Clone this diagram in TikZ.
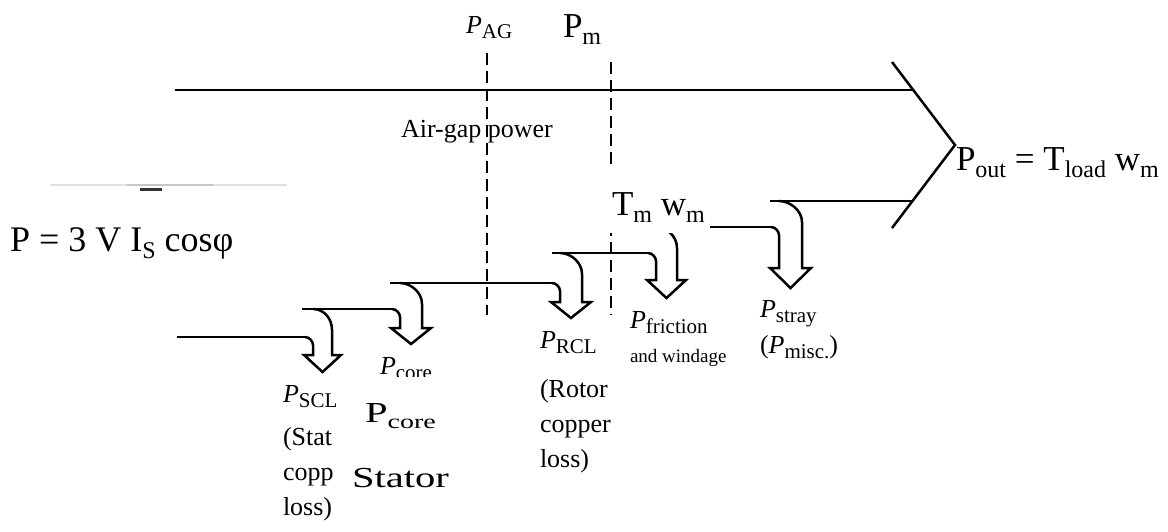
\documentclass[tikz,border=0pt]{standalone}
\usepackage{fontspec}
\setmainfont{Liberation Serif}
\usepackage{graphicx}
\newcommand\tbsub[1]{\raisebox{-5pt}{\fontsize{21}{21}\selectfont #1}}
\newcommand\ovsub[1]{\raisebox{-7pt}{\fontsize{24}{24}\selectfont #1}}
\newcommand\ovsubs[1]{\raisebox{-6pt}{\fontsize{20}{20}\selectfont #1}}
% loss arrow: #1 xl, #2 xr, #3 yU, #4 yL, #5 yf, #6 xtip, #7 ytip
\newcommand\lossarrow[7]{%
  \draw[flow] (#1-8,#4) .. controls (#1-3.6,#4) and (#1,#4+4.4) .. (#1,#4+8)
    -- (#1,#5) -- (#1-9,#5) -- (#6,#7) -- (#2+9,#5) -- (#2,#5)
    -- (#2,#3+21) .. controls (#2,#3+9.5) and (#1+11,#3) .. (#1,#3);}
\begin{document}
\begin{tikzpicture}[x=1pt,y=-1pt,
  flow/.style={line width=2.5pt, line join=miter},
  gap/.style={line width=1.8pt, dash pattern=on 12pt off 6pt},
  tb/.style={inner sep=0pt, outer sep=0pt, anchor=base west, font=\fontsize{26}{30}\selectfont},
  tbs/.style={inner sep=0pt, outer sep=0pt, anchor=base west, font=\fontsize{19}{22}\selectfont},
  ov/.style={inner sep=0pt, outer sep=0pt, anchor=base west, font=\fontsize{35}{40}\selectfont},
  ovs/.style={inner sep=0pt, outer sep=0pt, anchor=base west, font=\fontsize{29}{34}\selectfont}]
\useasboundingbox (0,0) rectangle (1168,531);
\fill[white] (0,0) rectangle (1168,531);
% remnants of covered label
\draw[black!12, line width=1.5pt] (50,185) -- (287,185);
\draw[black!22, line width=1.5pt] (127,185) -- (213,185);
\fill[black!80] (140,187.5) rectangle (162,190.5);
% dashed separators
\coordinate (ag1) at (487,53); \coordinate (ag2) at (487,315);
\coordinate (pm1) at (611,62); \coordinate (pm2) at (611,315);
\draw[gap] (ag1) -- (ag2);
\draw[gap] (pm1) -- (pm2);
% main band
\coordinate (top0) at (175,90); \coordinate (top1) at (913,90);
\coordinate (d1) at (892,62); \coordinate (tip) at (955,145); \coordinate (d2) at (892,228);
\coordinate (b5a) at (770,201); \coordinate (b5b) at (913,201);
\draw[flow] (top0) -- (top1);
\draw[flow] (d1) -- (tip) -- (d2);
\draw[flow] (b5a) -- (b5b);
% lower boundary steps
\coordinate (b0a) at (177,337); \coordinate (b0b) at (305,337);
\coordinate (b1a) at (302,309); \coordinate (b1b) at (392,309);
\coordinate (b2a) at (390,283); \coordinate (b2b) at (552,283);
\coordinate (b3a) at (552,253); \coordinate (b3b) at (648,253);
\coordinate (b4a) at (646,227); \coordinate (b4b) at (771,227);
\draw[flow] (b0a) -- (b0b);
\draw[flow] (b1a) -- (b1b);
\draw[flow] (b2a) -- (b2b);
\draw[flow] (b3a) -- (b3b);
\draw[flow] (b4a) -- (b4b);
% loss arrows
\lossarrow{313}{332}{309}{337}{355}{322.5}{372}
\lossarrow{400}{422}{283}{309}{328}{411}{344}
\lossarrow{560}{582}{253}{283}{302}{571}{318}
\lossarrow{656}{677}{227}{253}{280}{666.5}{298}
\lossarrow{779}{802}{201}{227}{268}{790.5}{288}
% textbook labels
\node[tb] (pag) at (466,33) {\textit{P}\tbsub{AG}};
\node[tb] (air) at (401,137) {Air-gap power};
\node[tb] (pcoreit) at (380,374) {\textit{P}\tbsub{core}};
\node[tb] (pscl) at (283,402) {\textit{P}\tbsub{SCL}};
\node[tb] (scl1) at (283,445) {(Stat};
\node[tb] (scl2) at (283,480) {copp};
\node[tb] (scl3) at (283,515) {loss)};
\node[tb] (prcl) at (540,348) {\textit{P}\tbsub{RCL}};
\node[tb] (rcl1) at (540,397) {(Rotor};
\node[tb] (rcl2) at (540,432) {copper};
\node[tb] (rcl3) at (540,467) {loss)};
\node[tb] (pfric) at (630,328) {\textit{P}\tbsub{friction}};
\node[tbs] (wind) at (630,362) {and windage};
\node[tb] (pstray) at (760,317) {\textit{P}\tbsub{stray}};
\node[tb] (pmisc) at (760,353) {(\textit{P}\tbsub{misc.})};
% overlay patches
\fill[white] (600,165) rectangle (710,233);
\fill[white] (336,377) rectangle (462,531);
% overlay labels
\node[ov] (pm) at (563,37) {P\ovsub{m}};
\node[ov] (tmwm) at (612,215) {T\ovsub{m} w\ovsub{m}};
\node[ov] (pout) at (956,170) {P\ovsub{out} = T\ovsub{load} w\ovsub{m}};
\node[ov, font=\fontsize{36}{40}\selectfont] (pin) at (10,251) {P = 3 V I\ovsub{S} cosφ};
\node[ovs] (pcore) at (365,422) {\scalebox{1.4}[1]{P\ovsubs{core}}};
\node[ovs] (stator) at (352,487) {\scalebox{1.4}[1]{Stator}};
\end{tikzpicture}
\end{document}
